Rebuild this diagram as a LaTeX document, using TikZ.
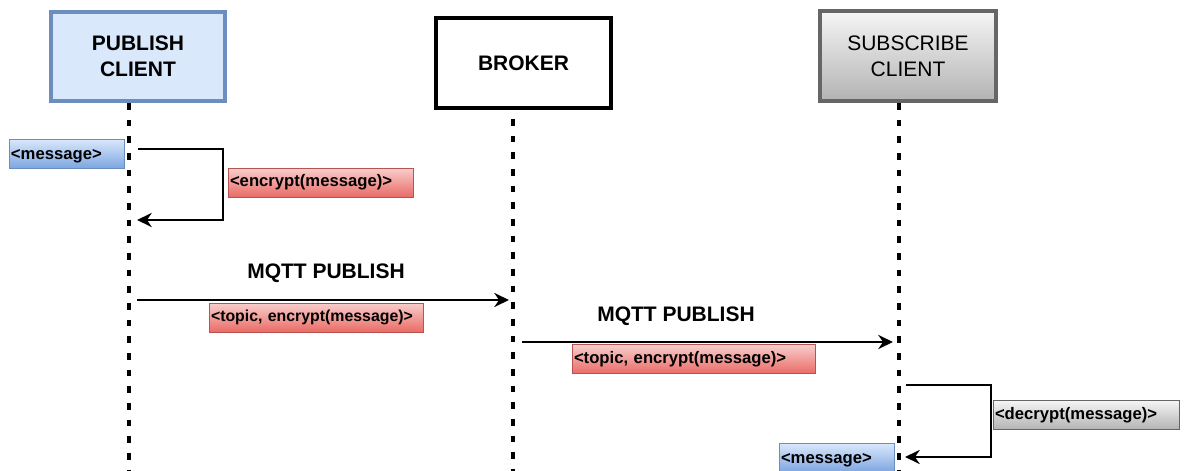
\documentclass[tikz,border=0pt]{standalone}
\usepackage{fontspec}
\setmainfont{Liberation Sans}
\usetikzlibrary{arrows.meta}
\definecolor{blueF}{HTML}{DAE8FC}
\definecolor{blueB}{HTML}{7EA6E0}
\definecolor{blueD}{HTML}{6C8EBF}
\definecolor{redT}{HTML}{F8CECC}
\definecolor{redB}{HTML}{EA6B66}
\definecolor{redD}{HTML}{B85450}
\definecolor{grayT}{HTML}{F5F5F5}
\definecolor{grayB}{HTML}{B3B3B3}
\definecolor{grayD}{HTML}{666666}
\begin{document}
\begin{tikzpicture}[x=0.75pt,y=-0.75pt,
  actor/.style={minimum height=66.75pt, align=center, inner sep=0pt,
    font=\fontsize{15.75}{19.5}\selectfont},
  pubbox/.style={actor, minimum width=130.5pt, fill=blueF, draw=blueD, line width=2.4pt, font=\fontsize{15.75}{19.5}\selectfont\bfseries},
  brokerbox/.style={actor, minimum width=131pt, minimum height=67.5pt, fill=white, draw=black, line width=2.7pt, font=\fontsize{15.75}{19.5}\selectfont\bfseries},
  subbox/.style={actor, minimum width=132pt, minimum height=67.5pt, top color=grayT, bottom color=grayB, draw=grayD, line width=2.4pt},
  lbl/.style={minimum height=21.75pt, inner xsep=1.5pt, inner ysep=0pt, align=left, line width=0.75pt,
    text height=9.2pt, text depth=2.8pt,
    font=\fontsize{12.5}{14}\selectfont\bfseries},
  bluelbl/.style={lbl, top color=blueF, bottom color=blueB, draw=blueD, text height=10.8pt, text depth=1.2pt},
  redlbl/.style={lbl, top color=redT, bottom color=redB, draw=redD},
  graylbl/.style={lbl, top color=grayT, bottom color=grayB, draw=grayD},
  life/.style={line width=2.4pt, dash pattern=on 5pt off 7.5pt},
  msgarrow/.style={line width=1.9pt, -{Stealth[length=11pt,width=10.5pt,inset=3.5pt]}},
  mqtt/.style={font=\fontsize{15.75}{19}\selectfont\bfseries, inner sep=0pt}
]
\useasboundingbox (0,0) rectangle (1186,471);

% actors
\node[pubbox] (pub) at (138,56.5) {PUBLISH\\CLIENT};
\node[brokerbox] (broker) at (523.5,63) {BROKER};
\node[subbox] (sub) at (908,56) {SUBSCRIBE\\CLIENT};

% lifelines
\coordinate (pubTop) at (129,103);
\coordinate (pubEnd) at (129,475);
\coordinate (brkTop) at (513,119);
\coordinate (brkEnd) at (513,475);
\coordinate (subTop) at (899,103);
\coordinate (subEnd) at (899,475);
\draw[life] (pubTop) -- (pubEnd);
\draw[life] (brkTop) -- (brkEnd);
\draw[life] (subTop) -- (subEnd);

% self message 1 (encrypt)
\node[bluelbl, text width=83.25pt] (msg1) at (66.5,153.5) {<message>};
\coordinate (s1a) at (138,149);
\coordinate (s1b) at (137,220);
\draw[msgarrow] (s1a) -- (223,149) -- (223,220) -- (s1b);
\node[redlbl, text width=135.75pt] (enc) at (320.5,182.5) {<encrypt(message)>};

% publish to broker
\node[mqtt] (mq1) at (326,273) {MQTT PUBLISH};
\coordinate (a1s) at (137,300);
\coordinate (a1e) at (509,300);
\draw[msgarrow] (a1s) -- (a1e);
\node[redlbl, text width=157.5pt, font=\fontsize{11.9}{14}\selectfont\bfseries] (top1) at (316,317.5) {<topic, encrypt(message)>};

% broker to subscriber
\node[mqtt] (mq2) at (676,316.5) {MQTT PUBLISH};
\coordinate (a2s) at (522,342);
\coordinate (a2e) at (893,342);
\draw[msgarrow] (a2s) -- (a2e);
\node[redlbl, text width=179.25pt] (top2) at (693.5,359) {<topic, encrypt(message)>};

% self message 2 (decrypt)
\coordinate (s2a) at (906,385);
\coordinate (s2b) at (905,457);
\draw[msgarrow] (s2a) -- (991,385) -- (991,457) -- (s2b);
\node[graylbl, text width=136.5pt] (dec) at (1086,415) {<decrypt(message)>};
\node[bluelbl, text width=83.25pt] (msg2) at (836.5,457.5) {<message>};
\end{tikzpicture}
\end{document}
